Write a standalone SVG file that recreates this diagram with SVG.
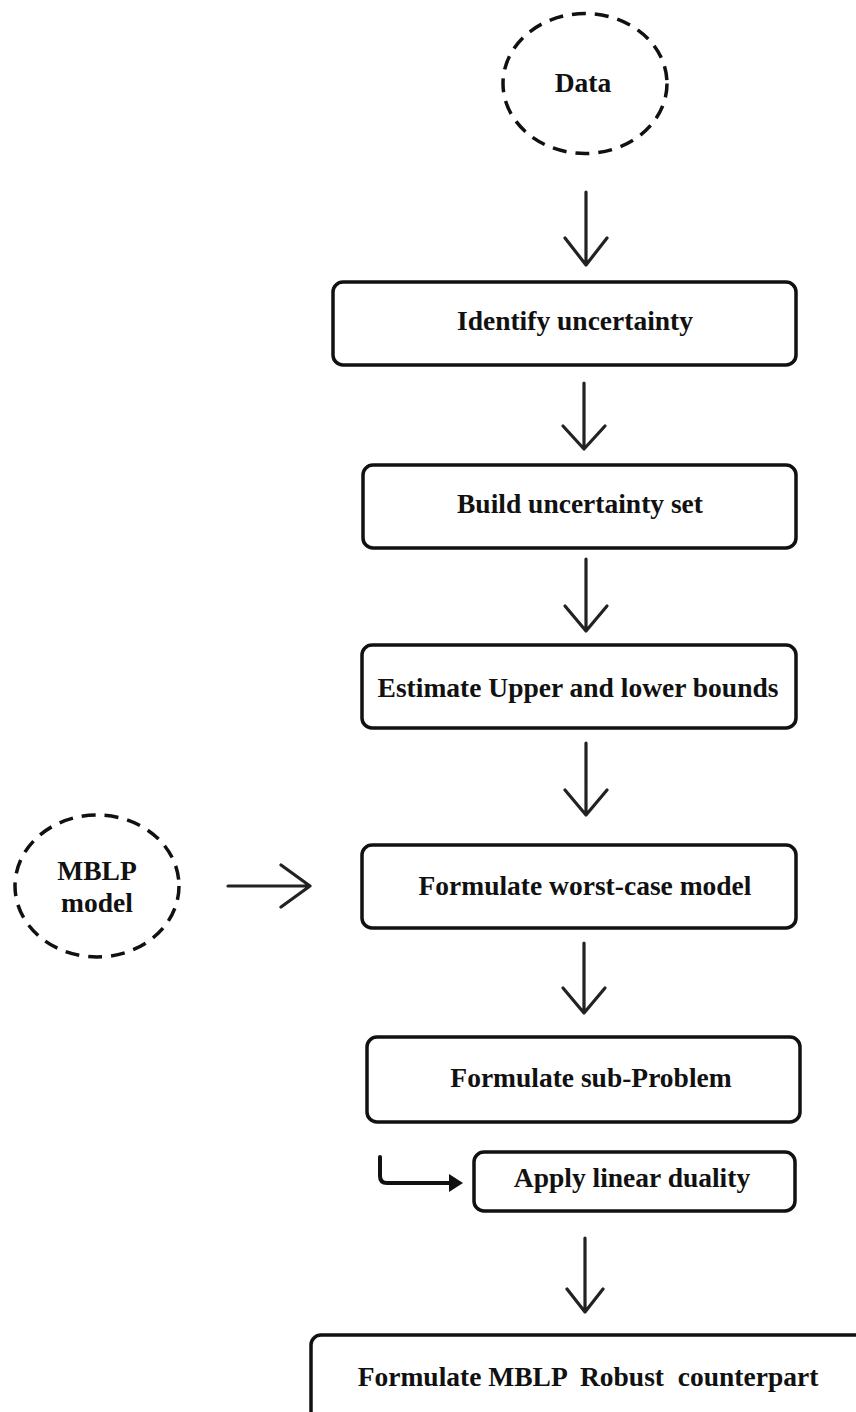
<svg xmlns="http://www.w3.org/2000/svg" width="856" height="1412" viewBox="0 0 856 1412">
<style>
.box{fill:#fff;stroke:#111;stroke-width:3.5}
.oval{fill:#fff;stroke:#111;stroke-width:3.5;stroke-dasharray:14 9}
.lbl{font-family:"Liberation Serif","Times New Roman",serif;font-weight:bold;font-size:27.5px;fill:#111;text-anchor:middle}
.arr{fill:none;stroke:#222;stroke-width:3.2;stroke-linecap:round;stroke-linejoin:round}
</style>
<rect width="856" height="1412" fill="#fff"/>
<g id="n-data">
<ellipse class="oval" cx="585" cy="83.5" rx="82" ry="70"/>
<text class="lbl" x="583" y="92">Data</text>
</g>
<g id="n-identify">
<rect class="box" x="333" y="282" width="463" height="83" rx="10"/>
<text class="lbl" x="575" y="330">Identify uncertainty</text>
</g>
<g id="n-build">
<rect class="box" x="363" y="465" width="433" height="83" rx="10"/>
<text class="lbl" x="580" y="513">Build uncertainty set</text>
</g>
<g id="n-estimate">
<rect class="box" x="362" y="645" width="434" height="83" rx="10"/>
<text class="lbl" x="578" y="697">Estimate Upper and lower bounds</text>
</g>
<g id="n-worst">
<rect class="box" x="362" y="845" width="434" height="83" rx="10"/>
<text class="lbl" x="585" y="895">Formulate worst-case model</text>
</g>
<g id="n-mblp">
<ellipse class="oval" cx="97" cy="886" rx="82" ry="71"/>
<text class="lbl" x="97" y="880">MBLP</text>
<text class="lbl" x="97" y="912">model</text>
</g>
<g id="n-sub">
<rect class="box" x="367" y="1037" width="433" height="85" rx="10"/>
<text class="lbl" x="591" y="1087">Formulate sub-Problem</text>
</g>
<g id="n-dual">
<rect class="box" x="474" y="1152" width="321" height="59" rx="10"/>
<text class="lbl" x="632" y="1187">Apply linear duality</text>
</g>
<g id="n-robust">
<rect class="box" x="311" y="1335" width="600" height="120" rx="10"/>
<text class="lbl" x="588" y="1386" xml:space="preserve">Formulate MBLP  Robust  counterpart</text>
</g>
<g id="connectors">
<path class="arr" d="M586,192 V265 M565,238 L586,265 L607,238"/>
<path class="arr" d="M584,383 V449 M563,426 L584,449 L605,426"/>
<path class="arr" d="M586,559 V631 M565,606 L586,631 L607,606"/>
<path class="arr" d="M586,743 V815 M565,790 L586,815 L607,790"/>
<path class="arr" d="M228,886 H310 M281,865 L310,886 L281,907"/>
<path class="arr" d="M584,943 V1013 M563,988 L584,1013 L605,988"/>
<path d="M380,1157 V1176 Q380,1183 387,1183 H452" fill="none" stroke="#111" stroke-width="4" stroke-linecap="round"/>
<path d="M449,1174 L463,1183 L449,1192 Z" fill="#111"/>
<path class="arr" d="M585,1238 V1312 M567,1289 L585,1312 L603,1289"/>
</g>
</svg>
